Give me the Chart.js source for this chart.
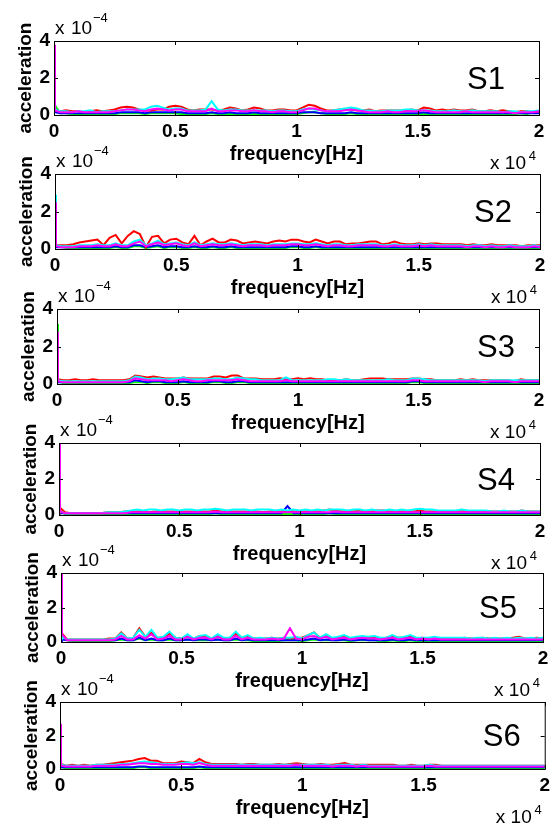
<!DOCTYPE html>
<html>
<head>
<meta charset="utf-8">
<script src="https://cdn.jsdelivr.net/npm/chart.js@4/dist/chart.umd.min.js"></script>
<style>
  html, body { margin: 0; padding: 0; background: #fff; }
  #wrap { position: relative; width: 555px; height: 827px; overflow: hidden; }
  #wrap canvas { position: absolute; left: 0; }
</style>
</head>
<body>
<div id="wrap"></div>
<script>
// frequency axis (Hz), shared by all sensors
const freq = [0, 40,
  250,500,750,1000,1250,1500,1750,2000,
  2250,2500,2750,3000,3250,3500,3750,4000,
  4250,4500,4750,5000,5250,5500,5750,6000,
  6250,6500,6750,7000,7250,7500,7750,8000,
  8250,8500,8750,9000,9250,9500,9750,10000,
  10250,10500,10750,11000,11250,11500,11750,12000,
  12250,12500,12750,13000,13250,13500,13750,14000,
  14250,14500,14750,15000,15250,15500,15750,16000,
  16250,16500,16750,17000,17250,17500,17750,18000,
  18250,18500,18750,19000,19250,19500,19750,20000];

// acceleration, in units of 1e-5
const s1Red = [12, 3,
  2,2.5,2,2,1.5,2,2.5,2,
  2.5,3,4,4.5,4,3,2.5,2.5,
  3,3,4.5,5,4.5,3,2.5,3,
  3,3,2.5,3,4,3.5,2.5,3,
  4,3.5,2.5,2.5,3,3,2.5,2.5,
  4,5.5,5,3.5,2.5,2.5,3,3,
  3,2.5,2.5,3,2,2.5,2.5,2.5,
  2.5,2.5,3,2.5,4,3.5,2.5,3,
  2.5,3,2.5,2.5,3,2,2,2.5,
  2,2.5,2,1.5,2,2,1.5,2];
const s1Cyan = [20, 3,
  2,2,1.5,2,2,2.5,1.5,2,
  2,2,2.5,3,3,3,3,4.5,
  5,4,3,3.5,3.5,2.5,2.5,2.5,
  3,7.5,3,2.5,3,3,2.5,2.5,
  2.5,2.5,2.5,2,2.5,2.5,2,2,
  3,3.5,3,2.5,2,2.5,3,3.5,
  4,3.5,2.5,2.5,2,2,2.5,2.5,
  2.5,3,3,2.5,2.5,2.5,2,2,
  2,2.5,2,2,2.5,2,2,2,
  2,1.5,2,2,1.5,2,2,2.5];
const s1Magenta = [38, 2.5,
  1.5,1.5,1.5,2,1.5,1.5,1.5,1.5,
  1.5,2,2.5,3,3,2.5,2,3,
  3.5,3,2.5,3,3,2,2,2,
  2,3.5,2,2,2.5,2.5,2,2,
  2.5,2,2,1.5,2,2,1.5,1.5,
  2.5,3.5,3.5,2.5,2,2,2,2.5,
  3,2.5,2,1.5,1.5,1.5,2,1.5,
  1.5,2,2,2,2.5,2,1.5,1.5,
  1.5,1.5,1.5,2,1.5,1.5,1.5,1.5,
  1.5,1.5,1.5,1,1.5,1.5,1.5,2];
const s1Blue = [34, 1.5,
  1,1,1,1,1,1,1,1,
  1,1,1.5,1.5,1.5,1.5,1,1.5,
  1.5,1.5,1.5,1.5,1.5,1,1,1,
  1,1.5,1,1,1.5,1,1,1,
  1.5,1,1,1,1,1,1,1,
  1.5,1.5,1.5,1,1,1,1,1,
  1.5,1,1,1,1,1,1,1,
  1,1,1,1,1.5,1,1,1,
  1,1,1,1,1,1,1,1,
  1,1,1,1,1,1,1,1];
const s1Green = [6, 6,
  1,1,0.5,0.5,0.5,0.5,0.5,0.5,
  0.5,0.5,1,1,1,1,0.5,1,
  1,1,1,1,0.5,0.5,0.5,0.5,
  0.5,1,0.5,0.5,0.5,0.5,0.5,0.5,
  0.5,0.5,0.5,0.5,0.5,0.5,0.5,0.5,
  1,1.5,1.5,1,0.5,0.5,0.5,0.5,
  1,0.5,0.5,0.5,0.5,0.5,0.5,0.5,
  0.5,0.5,0.5,0.5,0.5,0.5,0.5,0.5,
  0.5,0.5,0.5,0.5,0.5,0.5,0.5,0.5,
  0.5,0.5,0.5,0.5,1,0.5,1.5,2];

const s2Red = [12, 2,
  2,2,2.5,3.5,4,4.5,5,2,
  6,7.5,3,7,9.5,8,1,6.5,
  7,3,5,5.5,3.5,2.5,7,2,
  4,5.5,3.5,3.5,5,4.5,3,3.5,
  4,3.5,3,4,4.5,4,5,5,
  4,3.5,5,4,3,4,4,2.5,
  3,3,3.5,4,4,2.5,3,4,
  3,2.5,2.5,3,2.5,3,3,2.5,
  2.5,2.5,2.5,2,2.5,2,2,2.5,
  2,2,2,2,1.5,2,2,2];
const s2Cyan = [29, 2,
  1.5,1.5,1.5,2,2,2,2.5,2,
  2,3,2,2,4,5,2,3,
  4.5,2.5,3,3.5,2.5,2,3.5,2,
  2.5,3,2.5,2.5,3,2.5,2,2.5,
  2.5,2.5,2,2.5,2.5,2.5,3,3,
  2.5,2.5,3,2.5,2,2.5,2.5,2,
  2,2.5,2.5,2.5,2.5,2,2,2.5,
  2,2,2,2.5,2,2.5,2,2,
  2,2,2,1.5,2,2,1.5,2,
  1.5,1.5,2,1.5,1.5,1.5,2,1.5];
const s2Magenta = [25, 1.5,
  1,1,1,1.5,1.5,1.5,2,1.5,
  1.5,2.5,1.5,1.5,3,4,1.5,2.5,
  3.5,2,2.5,3,2,1.5,3,1.5,
  2,2.5,2,2,2.5,2,1.5,2,
  2,2,1.5,2,2,2,2.5,2.5,
  2,2,2.5,2,1.5,2,2,1.5,
  1.5,2,2,2,2,1.5,1.5,2,
  1.5,1.5,1.5,2,1.5,2,1.5,1.5,
  1.5,1.5,1.5,1,1.5,1.5,1,1.5,
  1,1,1.5,1,1,1,1.5,1];
const s2Blue = [8, 1,
  1,1,1,1,1,1,1,1,
  1,1.5,1,1,2,2,1,1.5,
  2,1,1.5,1.5,1,1,1.5,1,
  1,1.5,1,1,1.5,1,1,1,
  1,1,1,1,1,1,1.5,1.5,
  1,1,1.5,1,1,1,1,1,
  1,1,1,1,1,1,1,1,
  1,1,1,1,1,1,1,1,
  1,1,1,1,1,1,1,1,
  1,1,1,1,1,1,1,1];
const s2Green = [5, 1.5,
  1,0.5,0.5,0.5,0.5,0.5,0.5,0.5,
  0.5,1,0.5,0.5,1.5,1.5,0.5,1,
  1.5,0.5,1,1,0.5,0.5,1,0.5,
  0.5,1,0.5,0.5,1,0.5,0.5,0.5,
  0.5,0.5,0.5,0.5,0.5,0.5,1,1,
  0.5,0.5,1,0.5,0.5,0.5,0.5,0.5,
  0.5,0.5,0.5,0.5,0.5,0.5,0.5,0.5,
  0.5,0.5,0.5,0.5,0.5,0.5,0.5,0.5,
  0.5,0.5,0.5,0.5,0.5,0.5,0.5,0.5,
  0.5,0.5,0.5,0.5,0.5,0.5,0.5,0.5];

const s3Red = [8, 2.5,
  2,2,2.5,2,2,2.5,2,2,
  2,2,2,2.5,4.5,4,3.5,4,
  3.5,3,3,3,3.5,3,3,3,
  3,4,4,3.5,4.5,4.5,3,3,
  3,2.5,2.5,2.5,3,2.5,2.5,3,
  2.5,3,2.5,2.5,2,2,2,2.5,
  2,2,2.5,3,3,3,2.5,2.5,
  2.5,2.5,3,3,2.5,2.5,2,2,
  2,2,2.5,2,2.5,2,2,2,
  2,2,2,1.5,2.5,2,2,2];
const s3Cyan = [10, 2,
  1.5,1.5,1.5,1.5,1.5,1.5,1.5,1.5,
  1.5,1.5,1.5,2,4,3.5,2.5,3,
  3,2.5,2.5,3,3.5,2.5,2.5,2.5,
  2.5,3,3,2.5,2.5,3.5,3,2.5,
  2.5,2,2,2,2,3.5,2,2,
  2,2,2,2,2.5,2.5,2,2.5,
  2,2,2,2,2,2,2.5,2,
  2,2,3,3,2.5,2,2,2,
  2,2,2,2,2,2,1.5,2,
  2,2,2,2,2,2,2,2];
const s3Magenta = [28, 1.5,
  1,1,1,1,1,1,1,1,
  1,1,1,1.5,3,2.5,2,2,
  2,2,1.5,2,2.5,2,1.5,1.5,
  2,2,2,2,2,2.5,2,1.5,
  1.5,1.5,1.5,1.5,1.5,2,1.5,1.5,
  1.5,1.5,1.5,1.5,1.5,1.5,1.5,1.5,
  1.5,1.5,1.5,1.5,1.5,1.5,1.5,1.5,
  1.5,1.5,2,2,1.5,1.5,1.5,1.5,
  1.5,1.5,1.5,1.5,1.5,1.5,1,1.5,
  1.5,1.5,1.5,1,1.5,1.5,1.5,1.5];
const s3Blue = [6, 1,
  1,1,1,1,1,1,1,1,
  1,1,1,1,2,1.5,1,1.5,
  1.5,1,1,1,1.5,1,1,1,
  1,1.5,1.5,1,1,1.5,1.5,1,
  1,1,1,1,1,1,1,1,
  1,1,1,1,1,1,1,1,
  1,1,1,1,1,1,1,1,
  1,1,1.5,1.5,1,1,1,1,
  1,1,1,1,1,1,1,1,
  1,1,1,1,1,1,1,1];
const s3Green = [32, 1.5,
  0.5,0.5,0.5,0.5,0.5,0.5,0.5,0.5,
  0.5,0.5,0.5,0.5,1,1,0.5,1,
  1,0.5,0.5,0.5,1,0.5,0,0.5,
  0.5,1,1,0.5,0.5,1,1,0.5,
  0.5,0.5,0.5,0.5,0.5,0.5,0.5,0.5,
  0.5,0.5,0.5,0.5,0.5,0.5,0.5,0.5,
  0.5,0.5,0.5,0.5,0.5,0.5,0.5,0.5,
  0.5,0.5,1,1,0.5,0.5,0.5,0.5,
  0.5,0.5,0.5,0.5,0.5,0.5,0.5,0.5,
  0.5,0.5,0.5,0.5,0.5,0.5,0.5,0.5];

const s4Red = [6, 4,
  1.5,1,1,1,1,1,1,1.5,
  1.5,1.5,2,2,2,2,1.5,2,
  2,2,2,1.5,2,2,1.5,2,
  2,2.5,2,1.5,2,2,2,1.5,
  2,1.5,2,2,2,2,2,1.5,
  2,2,2,2.5,3,2.5,2,2,
  2,2.5,2,2,2.5,2.5,2,2,
  2,2,2,2.5,2,2,2,2,
  2,2,2.5,2,2,2,2,2,
  2,2,2,2,2.5,2,2,2];
const s4Cyan = [5, 2,
  1,1,1,1,1,1,1,1.5,
  1.5,1.5,2,2.5,3,2.5,3,3,
  2.5,3,3,2.5,3,3,2.5,3,
  3,3.5,3,2.5,3,3,3,2.5,
  3,3,3,2.5,3,2.5,3,2.5,
  3,2.5,3,2.5,3,3,3,2.5,
  3,3,2.5,3,2.5,2.5,3,2.5,
  3,2.5,3,3.5,3,3,2.5,2.5,
  2.5,2.5,3,2.5,2.5,2.5,2.5,2,
  2,2.5,2,2,2.5,2,2,2];
const s4Magenta = [40, 2,
  1,1,1,1,1,1,1,1,
  1,1,1,1.5,1.5,1.5,1.5,1.5,
  1.5,1.5,1.5,1.5,1.5,1.5,1.5,1.5,
  1.5,2,1.5,1.5,1.5,1.5,1.5,1.5,
  1.5,1.5,1.5,1.5,1.5,1.5,1.5,1.5,
  1.5,1.5,1.5,1.5,1.5,2,1.5,1.5,
  1.5,1.5,1.5,1.5,1.5,1.5,1.5,1.5,
  1.5,1.5,1.5,1.5,1.5,1.5,1.5,1.5,
  1.5,1.5,1.5,1.5,1.5,1.5,1.5,1.5,
  1.5,1.5,1.5,1.5,1.5,1.5,1.5,1.5];
const s4Blue = [4, 1,
  1,1,1,1,1,1,1,1,
  1,1,1,1,1,1,1,1,
  1,1,1,1,1,1,1,1,
  1,1,1,1,1,1,1,1,
  1,1,1,1,1,5,1,1,
  1,1,1,1,1,1,1,1,
  1,1,1,1,1,1,1,1,
  1,1,1,1,1,1,1,1,
  1,1,1,1,1,1,1,1,
  1,1,1,1,1,1,1,1];
const s4Green = [3, 2,
  0.5,0.5,0.5,0.5,0.5,0.5,0.5,0.5,
  0.5,0.5,0.5,0.5,0.5,0.5,0.5,0.5,
  0.5,0.5,0.5,0.5,0.5,0.5,0.5,0.5,
  0.5,1,0.5,0.5,0.5,0.5,0.5,0.5,
  0.5,0.5,0.5,0.5,0.5,0.5,0.5,0.5,
  0.5,0.5,0.5,0.5,1,0.5,0.5,0.5,
  0.5,0.5,0.5,0.5,0.5,0.5,0.5,0.5,
  0.5,0.5,0.5,0.5,0.5,0.5,0.5,0.5,
  0.5,0.5,0.5,0.5,0.5,0.5,0.5,0.5,
  0.5,0.5,0.5,0.5,0.5,0.5,0.5,0.5];

const s5Red = [6, 5,
  1.5,1.5,1.5,1.5,1.5,1.5,1.5,2,
  2,5.5,2,2.5,8,3,5.5,2.5,
  2.5,5,2.5,2,4,2,3.5,3.5,
  2,4,2,2.5,5,2.5,3.5,2,
  2,2,2.5,2,2.5,2,2.5,2.5,
  4,5.5,2.5,4,2,2.5,3,2,
  2.5,3,2.5,3,2,2.5,3.5,2.5,
  2.5,3.5,2,2.5,2,2.5,2,2,
  2,2,2.5,2,2,2.5,2,2,
  2,2,2.5,3,2,2,2.5,2];
const s5Cyan = [4, 3,
  1.5,1.5,1.5,1.5,1.5,1.5,1.5,1.5,
  2,5,2,2.5,7,3,7,2.5,
  3,6,2.5,2,4.5,2,3.5,4,
  2,4.5,2.5,2.5,6,2.5,4,2,
  2.5,2,2.5,2,2.5,2.5,3,2,
  4,5.5,2.5,4.5,2.5,3,4,2.5,
  3,3.5,3,3.5,2.5,2.5,4,2.5,
  3,4,2.5,2.5,2.5,3,2.5,2.5,
  2.5,2.5,2.5,2,2.5,2.5,2,2.5,
  2,2.5,2,2.5,2,2.5,2,2.5];
const s5Magenta = [40, 4.5,
  1,1,1,1,1,1,1,1,
  1.5,3.5,1.5,1.5,4,2,4.5,1.5,
  2,3.5,1.5,1.5,3,1.5,2.5,2.5,
  1.5,3,1.5,1.5,3.5,1.5,2.5,1.5,
  1.5,1.5,2,1.5,2,8,2,1.5,
  3,3.5,2,3,1.5,2,2.5,1.5,
  2,2.5,2,2,1.5,2,2.5,1.5,
  2,2.5,1.5,2,1.5,2,1.5,1.5,
  1.5,1.5,1.5,1.5,1.5,1.5,1.5,1.5,
  1.5,1.5,1.5,1.5,1.5,1.5,1.5,1.5];
const s5Blue = [3, 1.5,
  1,1,1,1,1,1,1,1,
  1,2,1,1,2.5,1,2,1,
  1,2,1,1,1.5,1,1.5,1.5,
  1,1.5,1,1,2,1,1.5,1,
  1,1,1,1,1,1,1,1,
  1.5,2,1,1.5,1,1,1.5,1,
  1,1.5,1,1,1,1,1.5,1,
  1,1.5,1,1,1,1,1,1,
  1,1,1,1,1,1,1,1,
  1,1,1,1,1,1,1,1];
const s5Green = [3, 4.5,
  1,0.5,0.5,0.5,0.5,0.5,0.5,0.5,
  1,1.5,1,1,2,1,1.5,1,
  1,1.5,1,1,1.5,1,1,1,
  1,1.5,1,1,1.5,1,1,0.5,
  0.5,0.5,0.5,0.5,1,1,1,0.5,
  1,1.5,1,1,1,1,1,0.5,
  1,1,1,1,0.5,0.5,1,0.5,
  0.5,1,0.5,0.5,0.5,0.5,0.5,0.5,
  0.5,0.5,0.5,0.5,0.5,0.5,0.5,0.5,
  0.5,0.5,0.5,0.5,0.5,0.5,0.5,0.5];

const s6Red = [26, 3,
  2,2.5,2,2.5,2,2.5,2.5,3,
  3.5,4,4.5,5,6,6.5,5,5,
  3.5,3.5,3.5,4.5,4,3.5,6,4,
  3,3,3,3,3,2.5,3,3,
  2.5,2.5,2.5,3,2.5,3,3.5,3,
  2.5,2.5,3,2.5,2.5,3,3.5,2.5,
  2.5,2.5,2.5,2.5,2.5,2.5,2.5,2,
  2,2.5,2,2,2.5,2.5,2,2,
  2,2,2,2,2,2,2,2,
  2,2,2,2,2,2,2,2];
const s6Cyan = [10, 2.5,
  2,2,2,2,2,2.5,2.5,2.5,
  2.5,3,3,3.5,4,4.5,4,3.5,
  3,3,3,3.5,4,3.5,4,3,
  2.5,2.5,2.5,2.5,2.5,2.5,2.5,2.5,
  2.5,2.5,2.5,2.5,2.5,2.5,2.5,2.5,
  2.5,2.5,2.5,2.5,2,2.5,2.5,2.5,
  2,2.5,2,2,2,2,2,2,
  2,2,2,2,2.5,2,2,2,
  2,2,2,2,2,2,2,2,
  2,2,2,2,2,2,2,2];
const s6Magenta = [27, 2,
  1.5,1.5,1.5,1.5,1.5,2,2,2,
  2,2.5,2.5,3,3.5,3.5,3,3,
  2.5,2.5,2.5,3,3,2.5,3.5,2.5,
  2,2,2,2,2,2,2,2,
  2,2,2,2,2,2,2.5,2,
  2,2,2,2,1.5,2,2,2,
  1.5,2,1.5,1.5,1.5,1.5,1.5,1.5,
  1.5,1.5,1.5,1.5,2,1.5,1.5,1.5,
  1.5,1.5,1.5,1.5,1.5,1.5,1.5,1.5,
  1.5,1.5,1.5,1.5,1.5,1.5,1.5,1.5];
const s6Blue = [5, 1,
  1,1,1,1,1,1,1,1,
  1,1,1,1,1.5,1.5,1,1,
  1,1,1,1,1,1,1.5,1,
  1,1,1,1,1,1,1,1,
  1,1,1,1,1,1,1,1,
  1,1,1,1,1,1,1,1,
  1,1,1,1,1,1,1,1,
  1,1,1,1,1,1,1,1,
  1,1,1,1,1,1,1,1,
  1,1,1,1,1,1,1,1];
const s6Green = [4, 1,
  0.5,0.5,0.5,0.5,0.5,0.5,0.5,0.5,
  0.5,0.5,0.5,0.5,1,1,0.5,0.5,
  0.5,0.5,0.5,0.5,0.5,0.5,1,0.5,
  0.5,0.5,0.5,0.5,0.5,0.5,0.5,0.5,
  0.5,0.5,0.5,0.5,0.5,0.5,0.5,0.5,
  0.5,0.5,0.5,0.5,0.5,0.5,0.5,0.5,
  0.5,0.5,0.5,0.5,0.5,0.5,0.5,0.5,
  0.5,0.5,0.5,0.5,0.5,0.5,0.5,0.5,
  0.5,0.5,0.5,0.5,0.5,0.5,0.5,0.5,
  0.5,0.5,0.5,0.5,0.5,0.5,0.5,0.5];

const sensors = ['S1', 'S2', 'S3', 'S4', 'S5', 'S6'];
const series = [
  [s1Magenta, s1Cyan, s1Red, s1Blue, s1Green],
  [s2Magenta, s2Cyan, s2Red, s2Blue, s2Green],
  [s3Magenta, s3Cyan, s3Red, s3Blue, s3Green],
  [s4Magenta, s4Cyan, s4Red, s4Blue, s4Green],
  [s5Magenta, s5Cyan, s5Red, s5Blue, s5Green],
  [s6Magenta, s6Cyan, s6Red, s6Blue, s6Green]
];
const xTicks = [0, 5000, 10000, 15000, 20000];
const yTicks = [0, 20, 40];

// styling / layout below
const colors = ['#ff00ff', '#00ffff', '#ff0000', '#0000ff', '#00ff00'];
const FONT = '"Liberation Sans", Arial, sans-serif';
// plot box in page pixels: left, top, right, bottom, gap of the sensor label
const boxes = [
  [54, 41, 539, 115, 34],
  [55, 174, 540, 249, 28],
  [57, 309, 539, 384, 24],
  [59, 443, 540, 515, 25],
  [61, 573, 543, 642, 26],
  [60, 702, 546, 769, 24]
];
const TOP = 45, XAXIS = 58, W = 555;

const frame = {
  id: 'frame',
  afterDraw(chart, args, opts) {
    const { ctx, chartArea: a, scales: { x, y } } = chart;
    ctx.save();
    ctx.strokeStyle = '#000';
    ctx.lineWidth = 1;
    ctx.strokeRect(a.left + 0.5, a.top + 0.5, a.right - a.left, a.bottom - a.top);
    ctx.beginPath();
    xTicks.forEach(v => {
      const px = Math.round(x.getPixelForValue(v)) + 0.5;
      ctx.moveTo(px, a.top); ctx.lineTo(px, a.top + 4);
      ctx.moveTo(px, a.bottom); ctx.lineTo(px, a.bottom - 4);
    });
    yTicks.forEach(v => {
      const py = Math.round(y.getPixelForValue(v)) + 0.5;
      ctx.moveTo(a.left, py); ctx.lineTo(a.left + 4, py);
      ctx.moveTo(a.right, py); ctx.lineTo(a.right - 4, py);
    });
    ctx.stroke();

    ctx.fillStyle = '#000';
    ctx.textBaseline = 'alphabetic';
    ctx.textAlign = 'left';
    ctx.font = '19px ' + FONT;
    ctx.fillText('x', a.left + 1, a.top - 7);
    ctx.fillText('10', a.left + 17, a.top - 7);
    ctx.fillText('x', a.right - 49, a.bottom + 54);
    ctx.textAlign = 'right';
    ctx.fillText('10', a.right - 13, a.bottom + 54);
    ctx.font = '13px ' + FONT;
    ctx.fillText('4', a.right - 3, a.bottom + 45);
    ctx.textAlign = 'left';
    ctx.fillText('\u22124', a.left + 39, a.top - 19);

    ctx.font = '31px ' + FONT;
    ctx.textAlign = 'right';
    ctx.textBaseline = 'middle';
    ctx.fillText(opts.name, a.right - opts.gap, (a.top + a.bottom) / 2 + 2);
    ctx.restore();
  }
};

const wrap = document.getElementById('wrap');

function makePanel(i) {
  const [L, T, R, B, gap] = boxes[i];
  const cv = document.createElement('canvas');
  const h = (B - T) + TOP + XAXIS;
  cv.width = W;
  cv.height = h;
  cv.style.top = (T - TOP) + 'px';
  wrap.appendChild(cv);

  new Chart(cv, {
    type: 'line',
    data: {
      datasets: series[i].map((vals, k) => ({
        data: vals.map((v, j) => ({ x: freq[j], y: v })),
        borderColor: colors[k],
        borderWidth: 2,
        pointRadius: 0,
        tension: 0,
        fill: false
      }))
    },
    options: {
      responsive: false,
      animation: false,
      events: [],
      layout: { padding: { left: 0, top: TOP, right: W - R, bottom: 0 } },
      plugins: {
        legend: { display: false },
        tooltip: { enabled: false },
        frame: { name: sensors[i], gap: gap }
      },
      scales: {
        x: {
          type: 'linear', min: 0, max: 20000,
          afterBuildTicks: s => { s.ticks = xTicks.map(v => ({ value: v })); },
          afterFit: s => { s.height = XAXIS; },
          grid: { display: false, drawTicks: false },
          border: { display: false },
          ticks: {
            padding: 5, color: '#000', maxRotation: 0,
            font: { family: FONT, size: 19, weight: 'bold' },
            callback: v => String(v / 10000)
          },
          title: {
            display: true, text: 'frequency[Hz]', color: '#000',
            font: { family: FONT, size: 20, weight: 'bold' },
            padding: { top: 0, bottom: 7 }
          }
        },
        y: {
          min: 0, max: 40,
          afterBuildTicks: s => { s.ticks = yTicks.map(v => ({ value: v })); },
          afterFit: s => { s.width = L; },
          grid: { display: false, drawTicks: false },
          border: { display: false },
          ticks: {
            padding: 4, color: '#000',
            font: { family: FONT, size: 19, weight: 'bold' },
            callback: v => String(v / 10)
          },
          title: {
            display: true, text: 'acceleration', color: '#000',
            font: { family: FONT, size: 19, weight: 'bold' },
            padding: { top: L - 40, bottom: 0 }
          }
        }
      }
    },
    plugins: [frame]
  });
}

sensors.forEach((_, i) => makePanel(i));
</script>
</body>
</html>
